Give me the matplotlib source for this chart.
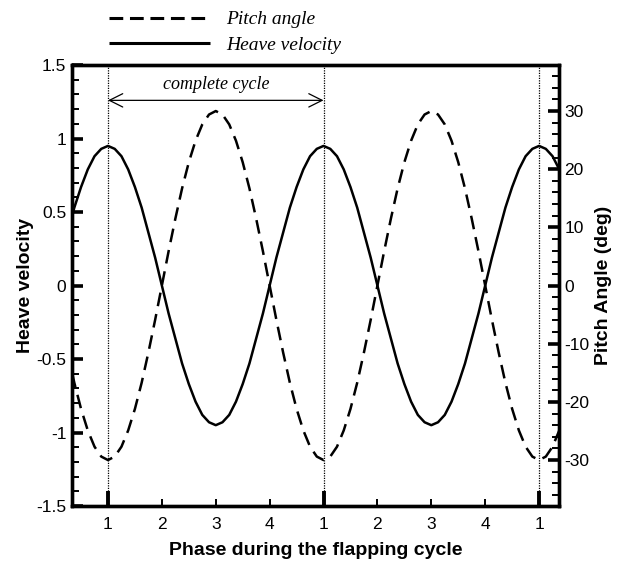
import numpy as np
import matplotlib
matplotlib.use("Agg")
import matplotlib.pyplot as plt
from matplotlib.ticker import MultipleLocator, FixedLocator

# ---------------- data ----------------
phase = np.arange(0.25, 9.5001, 0.125)  # continuous phase position (tick 1 = start of cycle)

heave_velocity = [
    0.36, 0.53, 0.67, 0.79, 0.88, 0.93,
    0.95, 0.93, 0.88, 0.79, 0.67, 0.53, 0.36, 0.19, 0.00, -0.19, -0.36, -0.53, -0.67, -0.79, -0.88, -0.93,
    -0.95, -0.93, -0.88, -0.79, -0.67, -0.53, -0.36, -0.19, 0.00, 0.19, 0.36, 0.53, 0.67, 0.79, 0.88, 0.93,
    0.95, 0.93, 0.88, 0.79, 0.67, 0.53, 0.36, 0.19, 0.00, -0.19, -0.36, -0.53, -0.67, -0.79, -0.88, -0.93,
    -0.95, -0.93, -0.88, -0.79, -0.67, -0.53, -0.36, -0.19, 0.00, 0.19, 0.36, 0.53, 0.67, 0.79, 0.88, 0.93,
    0.95, 0.93, 0.88, 0.79, 0.67,
]

pitch_angle = [
    -11.5, -16.7, -21.2, -24.9, -27.7, -29.4,
    -30.0, -29.4, -27.7, -24.9, -21.2, -16.7, -11.5, -5.9, 0.0, 5.9, 11.5, 16.7, 21.2, 24.9, 27.7, 29.4,
    30.0, 29.4, 27.7, 24.9, 21.2, 16.7, 11.5, 5.9, 0.0, -5.9, -11.5, -16.7, -21.2, -24.9, -27.7, -29.4,
    -30.0, -29.4, -27.7, -24.9, -21.2, -16.7, -11.5, -5.9, 0.0, 5.9, 11.5, 16.7, 21.2, 24.9, 27.7, 29.4,
    30.0, 29.4, 27.7, 24.9, 21.2, 16.7, 11.5, 5.9, 0.0, -5.9, -11.5, -16.7, -21.2, -24.9, -27.7, -29.4,
    -30.0, -29.4, -27.7, -24.9, -21.2,
]

tick_positions = [1, 2, 3, 4, 5, 6, 7, 8, 9]
tick_labels = ["1", "2", "3", "4", "1", "2", "3", "4", "1"]
cycle_starts = [1, 5, 9]
heave_ticks = [-1.5, -1, -0.5, 0, 0.5, 1, 1.5]
heave_tick_labels = ["-1.5", "-1", "-0.5", "0", "0.5", "1", "1.5"]
pitch_ticks = [-30, -20, -10, 0, 10, 20, 30]
pitch_tick_labels = ["-30", "-20", "-10", "0", "10", "20", "30"]

# ---------------- figure ----------------
plt.rcParams['font.family'] = ['Liberation Sans', 'DejaVu Sans']
plt.rcParams['axes.unicode_minus'] = False
fig = plt.figure(figsize=(6.19, 5.61), dpi=100)
ax = fig.add_axes([0.1163, 0.098, 0.7868, 0.786])
ax2 = ax.twinx()

ax.set_xlim(0.332, 9.37)
ax.set_ylim(-1.5, 1.5)
ax2.set_ylim(-37.9, 37.9)

for xs in cycle_starts:
    ax.axvline(xs, color='black', linestyle=(0, (1, 1)), linewidth=0.9, zorder=1)

l_heave, = ax.plot(phase, heave_velocity, color='black', linewidth=1.8, solid_capstyle='butt',
                   solid_joinstyle='round', zorder=3)
l_pitch, = ax2.plot(phase, pitch_angle, color='black', linewidth=1.8, linestyle=(0, (5.5, 3.2)), zorder=3)

# complete cycle annotation
ax.annotate('', xy=(cycle_starts[0], 1.26), xytext=(cycle_starts[1], 1.26),
            arrowprops=dict(arrowstyle='<->', color='black', lw=0.9, mutation_scale=24,
                            shrinkA=0, shrinkB=0))
ax.text((cycle_starts[0] + cycle_starts[1]) / 2, 1.365, 'complete cycle', ha='center', va='center',
        fontsize=13, fontstyle='italic', family='Liberation Serif')

# axes styling
for a in (ax, ax2):
    for s in a.spines.values():
        s.set_linewidth(2.4)

ax.xaxis.set_major_locator(FixedLocator(tick_positions))
ax.set_xticklabels(tick_labels)
ax.tick_params(axis='x', direction='in', length=5, width=1.4, labelsize=12.5, pad=8, top=False)
ax.set_yticks(heave_ticks)
ax.set_yticklabels(heave_tick_labels)
ax.yaxis.set_minor_locator(MultipleLocator(0.1))
ax.tick_params(axis='y', which='major', direction='in', length=8, width=2.6, labelsize=12.5, pad=4, right=False)
ax.tick_params(axis='y', which='minor', direction='in', length=5, width=1.4, right=False)

for i, t in enumerate(ax.xaxis.get_major_ticks()):
    if tick_positions[i] in cycle_starts:
        t.tick1line.set_markersize(11)
        t.tick1line.set_markeredgewidth(2.8)

ax2.set_yticks(pitch_ticks)
ax2.set_yticklabels(pitch_tick_labels)
ax2.yaxis.set_minor_locator(MultipleLocator(2))
ax2.tick_params(axis='y', which='major', direction='in', length=8, width=2.6, labelsize=12.5, pad=4)
ax2.tick_params(axis='y', which='minor', direction='in', length=5, width=1.4)

ax.set_xlabel('Phase during the flapping cycle', fontsize=14, fontweight='bold', labelpad=7)
ax.set_ylabel('Heave velocity', fontsize=14, fontweight='bold', labelpad=2)
ax2.set_ylabel('Pitch Angle (deg)', fontsize=14, fontweight='bold', labelpad=4)

leg = fig.legend([l_pitch, l_heave], ['Pitch angle', 'Heave velocity'], loc='upper left',
                 bbox_to_anchor=(0.148, 1.012), frameon=False, handlelength=5.2, handletextpad=0.8,
                 labelspacing=0.4, prop={'family': 'Liberation Serif', 'style': 'italic', 'size': 14})
for h in leg.legend_handles:
    h.set_linewidth(2.2)
leg.legend_handles[0].set_linestyle((0, (4.5, 2.2)))

fig.savefig('out.png', dpi=100)
